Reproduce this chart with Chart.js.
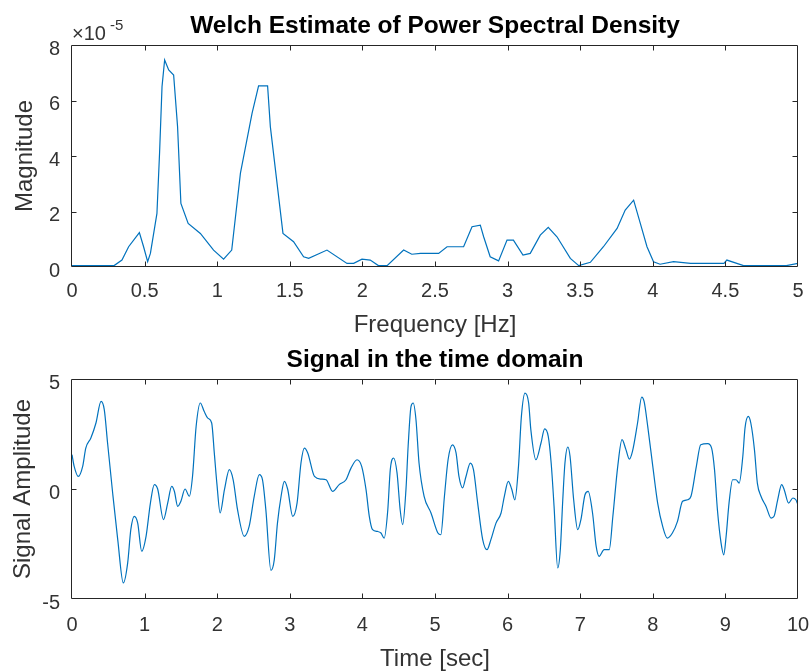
<!DOCTYPE html>
<html>
<head>
<meta charset="utf-8">
<title>Welch PSD and time signal</title>
<script src="https://cdn.jsdelivr.net/npm/chart.js@4.4.1/dist/chart.umd.min.js"></script>
<style>
  body { margin: 0; background: #fff; }
  #wrap { position: relative; width: 812px; height: 672px; }
  canvas { position: absolute; left: 0; }
  #psdChart { top: 0; }
  #timeChart { top: 336px; }
</style>
</head>
<body>
<div id="wrap">
  <canvas id="psdChart" width="812" height="340"></canvas>
  <canvas id="timeChart" width="812" height="336"></canvas>
</div>
<script>
// Welch PSD estimate: frequency in Hz, magnitude in units of 1e-5
const psdFreq = [
  0, 0.29, 0.344, 0.39, 0.464, 0.493, 0.521, 0.54, 0.585, 0.603,
  0.62, 0.638, 0.666, 0.70, 0.727, 0.75, 0.80, 0.884, 0.975, 1.044,
  1.10, 1.16, 1.24, 1.285, 1.347, 1.366, 1.453, 1.526, 1.595, 1.63,
  1.756, 1.894, 1.94, 1.997, 2.054, 2.11, 2.17, 2.284, 2.34, 2.40,
  2.525, 2.583, 2.697, 2.755, 2.812, 2.835, 2.88, 2.938, 2.996, 3.04,
  3.106, 3.156, 3.225, 3.28, 3.34, 3.432, 3.49, 3.57, 3.66, 3.754,
  3.81, 3.868, 3.914, 3.96, 4.005, 4.05, 4.143, 4.26, 4.49, 4.51,
  4.625, 4.92, 5.0
];
const psdMag = [
  0.05, 0.05, 0.25, 0.73, 1.24, 0.73, 0.19, 0.49, 1.93, 4.1,
  6.5, 7.46, 7.1, 6.92, 5.06, 2.29, 1.57, 1.21, 0.61, 0.28,
  0.61, 3.38, 5.54, 6.53, 6.53, 5.06, 1.21, 0.91, 0.37, 0.31,
  0.61, 0.13, 0.13, 0.28, 0.25, 0.05, 0.05, 0.61, 0.46, 0.49,
  0.49, 0.73, 0.73, 1.45, 1.51, 1.09, 0.37, 0.22, 0.97, 0.97,
  0.43, 0.49, 1.15, 1.43, 1.09, 0.31, 0.05, 0.17, 0.73, 1.39,
  2.05, 2.41, 1.57, 0.73, 0.19, 0.1, 0.19, 0.13, 0.13, 0.25,
  0.05, 0.05, 0.13
];
const psdFreqTicks = [0, 0.5, 1, 1.5, 2, 2.5, 3, 3.5, 4, 4.5, 5];
const psdMagTicks = [0, 2, 4, 6, 8];

// time-domain signal: seconds and amplitude
const sigTime = [
  0, 0.03, 0.087, 0.147, 0.19, 0.26, 0.33, 0.40, 0.445, 0.49,
  0.56, 0.63, 0.707, 0.767, 0.81, 0.858, 0.905, 0.96, 1.02, 1.08,
  1.134, 1.18, 1.26, 1.318, 1.373, 1.41, 1.456, 1.50, 1.557, 1.616,
  1.66, 1.71, 1.767, 1.82, 1.87, 1.924, 1.96, 1.997, 2.04, 2.1,
  2.167, 2.22, 2.28, 2.373, 2.44, 2.51, 2.58, 2.624, 2.67, 2.74,
  2.786, 2.83, 2.88, 2.925, 2.97, 3.04, 3.10, 3.154, 3.2, 3.247,
  3.34, 3.43, 3.5, 3.59, 3.68, 3.774, 3.843, 3.926, 3.99, 4.05,
  4.095, 4.14, 4.21, 4.256, 4.3, 4.35, 4.384, 4.43, 4.477, 4.52,
  4.555, 4.6, 4.63, 4.67, 4.70, 4.738, 4.78, 4.85, 4.945, 5.04,
  5.08, 5.13, 5.18, 5.24, 5.29, 5.33, 5.38, 5.427, 5.486, 5.53,
  5.588, 5.657, 5.716, 5.77, 5.84, 5.91, 5.955, 6.01, 6.056, 6.1,
  6.15, 6.19, 6.24, 6.29, 6.32, 6.39, 6.46, 6.51, 6.56, 6.6,
  6.64, 6.69, 6.726, 6.76, 6.79, 6.83, 6.86, 6.91, 6.966, 7.01,
  7.066, 7.11, 7.17, 7.22, 7.26, 7.33, 7.4, 7.45, 7.517, 7.576,
  7.63, 7.677, 7.72, 7.79, 7.847, 7.88, 7.93, 8.0, 8.067, 8.136,
  8.2, 8.27, 8.34, 8.41, 8.48, 8.526, 8.6, 8.66, 8.756, 8.81,
  8.85, 8.89, 8.94, 8.977, 9.01, 9.05, 9.1, 9.146, 9.19, 9.24,
  9.27, 9.315, 9.35, 9.4, 9.44, 9.49, 9.56, 9.63, 9.67, 9.72,
  9.775, 9.81, 9.87, 9.93, 9.97, 10
];
const sigAmp = [
  1.56, 1.03, 0.57, 1.03, 1.86, 2.32, 3.0, 3.98, 3.6, 2.09,
  -0.18, -2.3, -4.27, -3.36, -1.85, -1.24, -1.55, -2.83, -2.15, -0.64,
  0.2, 0.0, -1.39, -0.64, 0.12, -0.1, -0.79, -0.56, 0.0, -0.33,
  0.57, 2.85, 3.91, 3.53, 3.22, 3.0, 1.64, 0.2, -1.09, -0.03,
  0.88, 0.42, -0.94, -2.15, -1.7, -0.33, 0.65, 0.42, -0.94, -3.7,
  -3.22, -1.55, -0.33, 0.35, 0.0, -1.24, -0.64, 1.18, 1.86, 1.64,
  0.57, 0.45, 0.42, -0.11, 0.2, 0.42, 0.95, 1.33, 1.03, -0.03,
  -1.24, -1.85, -1.93, -2.0, -2.23, -0.94, 0.88, 1.41, 0.73, -0.94,
  -1.62, -0.03, 1.94, 3.76, 3.91, 3.15, 1.18, -0.33, -1.09, -2.0,
  -2.08, -0.33, 1.33, 2.01, 1.64, 0.57, 0.05, 0.57, 1.18, 0.88,
  -0.64, -2.3, -2.76, -2.3, -1.55, -1.09, -0.33, 0.35, 0.0, -0.49,
  1.03, 3.3, 4.36, 3.91, 2.7, 1.33, 2.09, 2.73, 2.39, 1.18,
  -0.79, -3.59, -2.76, -0.49, 1.18, 1.91, 1.49, -0.49, -1.85, -1.39,
  -0.26, -0.11, -1.09, -2.61, -3.06, -2.76, -2.76, -1.24, 1.03, 2.24,
  1.79, 1.36, 1.71, 3.0, 4.18, 3.98, 2.85, 1.03, -0.64, -1.7,
  -2.23, -2.0, -1.47, -0.56, -0.49, -0.33, 1.03, 2.01, 2.06, 1.86,
  0.88, -0.94, -2.45, -2.99, -2.15, -0.64, 0.42, 0.42, 0.27, 1.49,
  2.77, 3.3, 3.0, 1.79, 0.27, -0.33, -0.79, -1.32, -1.24, -0.49,
  0.2, -0.03, -0.64, -0.41, -0.49, -0.72
];
const sigTimeTicks = [0, 1, 2, 3, 4, 5, 6, 7, 8, 9, 10];
const sigAmpTicks = [-5, 0, 5];

const LINE_BLUE = '#0072BD';
const AXIS_GREY = '#262626';
const TEXT_GREY = '#333333';

Chart.defaults.font.family = "'Liberation Sans', Arial, Helvetica, sans-serif";
Chart.defaults.color = TEXT_GREY;

// box around the plot area with inward tick marks on all four sides
const axesBox = {
  id: 'axesBox',
  afterDraw(chart) {
    const { ctx, chartArea: a, scales } = chart;
    const L = Math.round(a.left) - 0.5, R = Math.round(a.right) - 0.5;
    const T = Math.round(a.top) + 0.5, B = Math.round(a.bottom) - 0.5;
    const tickLen = 5;
    ctx.save();
    ctx.strokeStyle = AXIS_GREY;
    ctx.lineWidth = 1;
    ctx.beginPath();
    ctx.rect(L, T, R - L, B - T);
    scales.x.ticks.forEach(t => {
      const px = Math.round(scales.x.getPixelForValue(t.value)) + 0.5;
      if (px <= L + 1 || px >= R - 1) return;
      ctx.moveTo(px, B); ctx.lineTo(px, B - tickLen);
      ctx.moveTo(px, T); ctx.lineTo(px, T + tickLen);
    });
    scales.y.ticks.forEach(t => {
      const py = Math.round(scales.y.getPixelForValue(t.value)) + 0.5;
      if (py <= T + 1 || py >= B - 1) return;
      ctx.moveTo(L, py); ctx.lineTo(L + tickLen, py);
      ctx.moveTo(R, py); ctx.lineTo(R - tickLen, py);
    });
    ctx.stroke();
    ctx.restore();
  }
};

// "x10^-5" multiplier above the y axis of the PSD plot
const exponentLabel = {
  id: 'exponentLabel',
  afterDraw(chart) {
    const { ctx, chartArea: a } = chart;
    const fam = Chart.defaults.font.family;
    ctx.save();
    ctx.fillStyle = TEXT_GREY;
    ctx.textBaseline = 'alphabetic';
    ctx.textAlign = 'left';
    ctx.font = '20px ' + fam;
    const base = '\u00d710';
    ctx.fillText(base, a.left, a.top - 5);
    const w = ctx.measureText(base).width;
    ctx.font = '15px ' + fam;
    ctx.fillText('-5', a.left + w + 4, a.top - 15);
    ctx.restore();
  }
};

function fixedTicks(values) {
  return scale => { scale.ticks = values.map(v => ({ value: v })); };
}

function axisTicks(labelOffset) {
  return {
    color: TEXT_GREY,
    font: { size: 20 },
    padding: 0,
    labelOffset: labelOffset || 0,
    maxRotation: 0,
    autoSkip: false,
    callback: v => String(v)
  };
}

// grid is hidden; tickLength only sets the gap between axis and labels
function labelGap(gap) {
  return { display: false, drawTicks: true, tickLength: gap };
}

function makeChart(id, opts) {
  return new Chart(document.getElementById(id), {
    type: 'line',
    data: {
      datasets: [{
        data: opts.xs.map((x, i) => ({ x: x, y: opts.ys[i] })),
        borderColor: LINE_BLUE,
        borderWidth: 1.2,
        pointRadius: 0,
        fill: false,
        tension: 0,
        cubicInterpolationMode: opts.smooth ? 'monotone' : 'default'
      }]
    },
    options: {
      responsive: false,
      animation: false,
      devicePixelRatio: 1,
      layout: { padding: { left: 0, right: 14, top: 0, bottom: 0 } },
      plugins: {
        legend: { display: false },
        tooltip: { enabled: false },
        title: {
          display: true,
          fullSize: false,
          text: opts.title,
          color: '#000000',
          font: { size: 24.5, weight: 'bold', lineHeight: 1.2 },
          padding: opts.titlePad
        }
      },
      scales: {
        x: {
          type: 'linear',
          min: opts.xMin, max: opts.xMax,
          afterBuildTicks: fixedTicks(opts.xTicks),
          afterFit: s => { s.height = 73; },
          grid: labelGap(opts.xTickGap),
          border: { display: false },
          ticks: axisTicks(0),
          title: {
            display: true, text: opts.xLabel, color: TEXT_GREY,
            font: { size: 24, lineHeight: 1 },
            padding: { top: 0, bottom: opts.xLabelPad }
          }
        },
        y: {
          type: 'linear',
          min: opts.yMin, max: opts.yMax,
          afterBuildTicks: fixedTicks(opts.yTicks),
          afterFit: s => { s.width = 72; },
          grid: labelGap(12),
          border: { display: false },
          ticks: axisTicks(4),
          title: {
            display: true, text: opts.yLabel, color: TEXT_GREY,
            font: { size: 24, lineHeight: 1 },
            padding: { top: opts.yLabelPad, bottom: 0 }
          }
        }
      }
    },
    plugins: opts.extra ? [axesBox, opts.extra] : [axesBox]
  });
}

makeChart('psdChart', {
  xs: psdFreq, ys: psdMag, smooth: false,
  title: 'Welch Estimate of Power Spectral Density',
  titlePad: { top: 11.1, bottom: 4.5 },
  xMin: 0, xMax: 5, xTicks: psdFreqTicks, xTickGap: 12.3,
  xLabel: 'Frequency [Hz]', xLabelPad: 2.8,
  yMin: 0, yMax: 8, yTicks: psdMagTicks,
  yLabel: 'Magnitude', yLabelPad: 13,
  extra: exponentLabel
});

makeChart('timeChart', {
  xs: sigTime, ys: sigAmp, smooth: true,
  title: 'Signal in the time domain',
  titlePad: { top: 9.1, bottom: 4.5 },
  xMin: 0, xMax: 10, xTicks: sigTimeTicks, xTickGap: 14.5,
  xLabel: 'Time [sec]', xLabelPad: 0.8,
  yMin: -5, yMax: 5, yTicks: sigAmpTicks,
  yLabel: 'Signal Amplitude', yLabelPad: 11
});
</script>
</body>
</html>
